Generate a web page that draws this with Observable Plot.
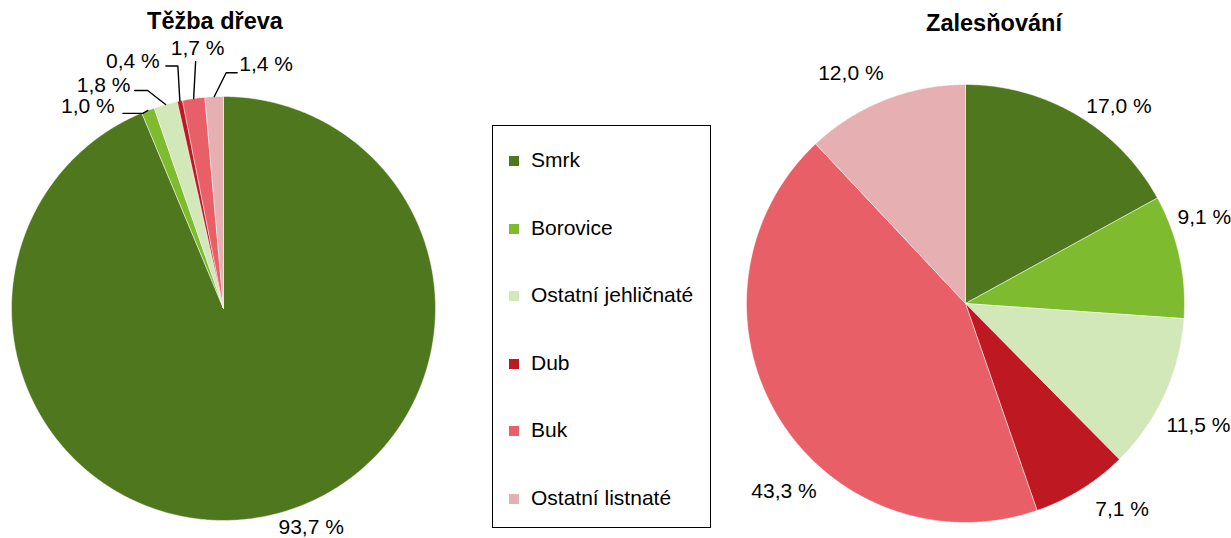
<!DOCTYPE html>
<html>
<head>
<meta charset="utf-8">
<script src="https://cdn.jsdelivr.net/npm/d3@7"></script>
<script src="https://cdn.jsdelivr.net/npm/@observablehq/plot@0.6"></script>
<style>
  body { margin: 0; background: #fff; font-family: "Liberation Sans", Arial, sans-serif; }
  #wrap { position: relative; width: 1231px; height: 538px; overflow: hidden; }
  #wrap svg { position: absolute; left: 0; top: 0; }
  .title { position: absolute; font-weight: bold; font-size: 23.5px; transform: translate(-50%, -50%); white-space: nowrap; color: #000; }
  #legend { position: absolute; left: 492px; top: 125px; width: 217px; height: 401px; border: 1.5px solid #000; background: #fff; }
  .item { position: absolute; left: 16px; font-size: 21px; line-height: 24px; transform: translateY(-50%); white-space: nowrap; color: #000; }
  .sw { display: inline-block; width: 10px; height: 10px; margin-right: 12px; vertical-align: 1px; }
</style>
</head>
<body>
<div id="wrap"></div>
<script>
// ---- data ----
const species = ["Smrk", "Borovice", "Ostatní jehličnaté", "Dub", "Buk", "Ostatní listnaté"];
const tezbaDreva = [93.7, 1.0, 1.8, 0.4, 1.7, 1.4];
const zalesnovani = [17.0, 9.1, 11.5, 7.1, 43.3, 12.0];
const titles = ["Těžba dřeva", "Zalesňování"];

// ---- styles / layout ----
const colors = ["#4f781e", "#7ebb2e", "#d3e8b8", "#be1922", "#e85f67", "#e6afb2"];
const W = 1231, H = 538;
const pieLayout = [
  { cx: 223, cy: 308, r: 212, titleX: 215, titleY: 21 },
  { cx: 965, cy: 303, r: 219, titleX: 994, titleY: 23 }
];
// label offsets (px) from the slice's mid-angle point on the rim
const labelOffsets = [
  [[46, 11], [-60, -4], [-62, -19], [-47, -40], [4, -50], [52, -32]],
  [[42, -9], [25, -39], [34, 30], [41, 20], [6, 75], [-34, -27]]
];
// leader line bend points (offsets from rim point)
const leaderOffsets = [
  [null, [[-5, 3], [-25, 3]], [[-18, -14], [-31, -14]], [[-2, -35], [-14, -35]], [[2, -37]], [[12, -24], [23, -24]]],
  [null, null, null, null, null, null]
];

const fmt = v => d3.format(".1f")(v).replace(".", ",") + " %";

const slicePts = [], labels = [], leaders = [];
[tezbaDreva, zalesnovani].forEach((values, p) => {
  const L = pieLayout[p];
  const arcs = d3.pie().sort(null).startAngle(0).endAngle(2 * Math.PI)(values);
  arcs.forEach((a, i) => {
    const key = p + "-" + i;
    const px = ang => L.cx + L.r * Math.sin(ang);
    const py = ang => L.cy - L.r * Math.cos(ang);
    slicePts.push({ key, sp: species[i], x: L.cx, y: L.cy });
    const n = Math.max(2, Math.ceil((a.endAngle - a.startAngle) / (Math.PI / 360)));
    for (let k = 0; k <= n; k++) {
      const ang = a.startAngle + (a.endAngle - a.startAngle) * k / n;
      slicePts.push({ key, sp: species[i], x: px(ang), y: py(ang) });
    }
    slicePts.push({ key, sp: species[i], x: L.cx, y: L.cy });
    const mid = (a.startAngle + a.endAngle) / 2;
    const rx = px(mid), ry = py(mid);
    const off = labelOffsets[p][i];
    labels.push({ x: rx + off[0], y: ry + off[1], text: fmt(values[i]) });
    const lo = leaderOffsets[p][i];
    if (lo) {
      leaders.push({ key, x: rx, y: ry });
      lo.forEach(o => leaders.push({ key, x: rx + o[0], y: ry + o[1] }));
    }
  });
});

const chart = Plot.plot({
  width: W, height: H,
  margin: 0,
  x: { domain: [0, W], range: [0, W], axis: null },
  y: { domain: [0, H], range: [0, H], axis: null },
  color: { domain: species, range: colors },
  style: { fontFamily: "'Liberation Sans', Arial, sans-serif", background: "transparent" },
  marks: [
    Plot.line(slicePts, { x: "x", y: "y", z: "key", fill: "sp", stroke: "#ffffff", strokeWidth: 0.6, strokeOpacity: 0.8, curve: "linear" }),
    Plot.line(leaders, { x: "x", y: "y", z: "key", stroke: "#000", strokeWidth: 1.4, curve: "linear" }),
    Plot.text(labels, { x: "x", y: "y", text: "text", fontSize: 21, fill: "#000", textAnchor: "middle", lineAnchor: "middle" })
  ]
});

const wrap = document.getElementById("wrap");
wrap.appendChild(chart);

titles.forEach((t, p) => {
  const d = document.createElement("div");
  d.className = "title";
  d.textContent = t;
  d.style.left = pieLayout[p].titleX + "px";
  d.style.top = pieLayout[p].titleY + "px";
  wrap.appendChild(d);
});

const legend = document.createElement("div");
legend.id = "legend";
species.forEach((s, i) => {
  const it = document.createElement("div");
  it.className = "item";
  it.style.top = (34 + i * 67.6) + "px";
  const sw = document.createElement("span");
  sw.className = "sw";
  sw.style.background = colors[i];
  it.appendChild(sw);
  it.appendChild(document.createTextNode(s));
  legend.appendChild(it);
});
wrap.appendChild(legend);
</script>
</body>
</html>
